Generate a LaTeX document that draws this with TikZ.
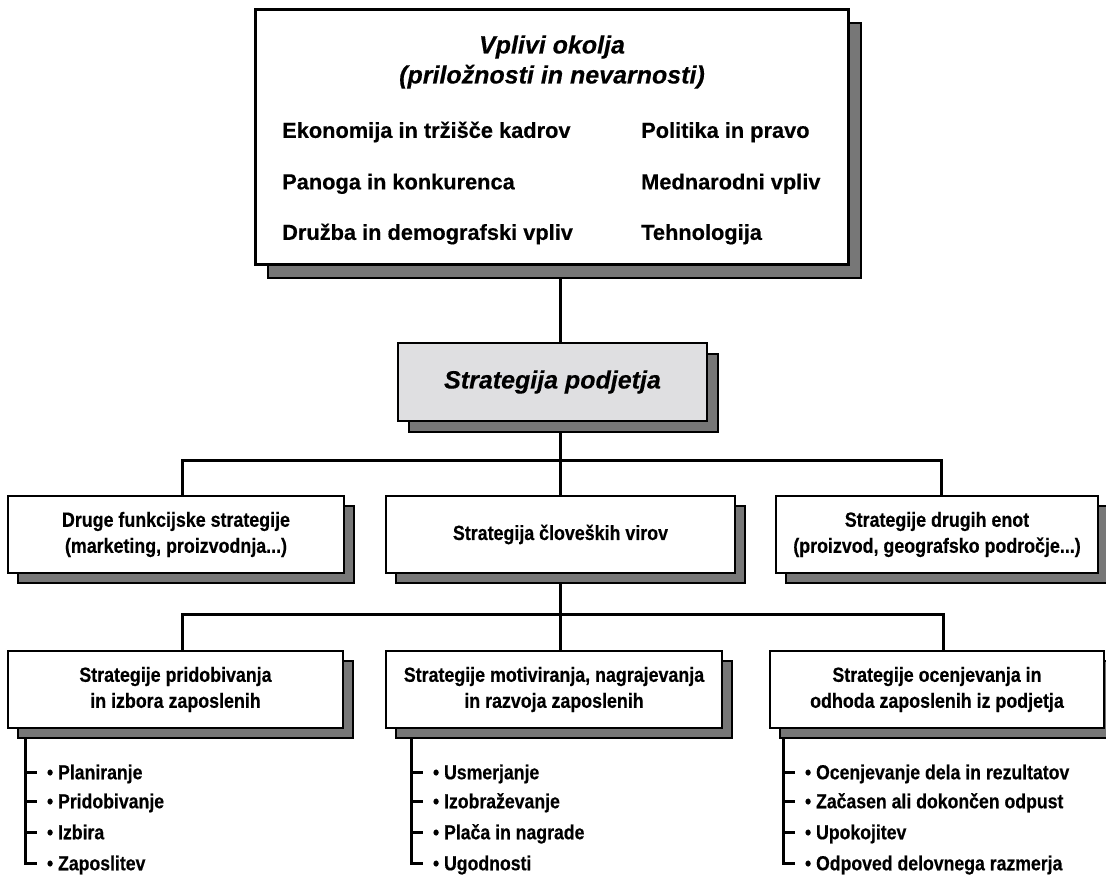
\documentclass[tikz,border=0pt]{standalone}
\usepackage{fontspec}
\setmainfont{Liberation Sans}[FakeBold=0.4]
\newfontfamily\narrowsans{Liberation Sans}[FakeStretch=0.87,FakeBold=0.4]
\usetikzlibrary{shadows,backgrounds}
\definecolor{shadowgray}{HTML}{777777}
\definecolor{boxgray}{HTML}{DFDFE1}
\tikzset{
  conn/.style={line width=3pt},
  shadowed/.style={drop shadow={shadow xshift=#1, shadow yshift=-#1, fill=shadowgray, draw=black, line width=1.2pt, opacity=1}},
  basebox/.style={draw, fill=white, anchor=north west, inner sep=0pt, outer sep=0pt, align=center},
  rowbox/.style={basebox, line width=2pt, shadowed=10pt,
    font=\narrowsans\bfseries\fontsize{20.5}{26}\selectfont},
  envbox/.style={basebox, line width=3pt, shadowed=13pt},
  corpbox/.style={basebox, line width=2pt, fill=boxgray, shadowed=11pt,
    font=\bfseries\itshape\fontsize{25}{30}\selectfont},
  titletext/.style={align=center, inner sep=0pt, font=\bfseries\itshape\fontsize{25}{30}\selectfont},
  envitem/.style={anchor=west, inner sep=0pt, text height=15.7pt, text depth=0pt,
    font=\bfseries\fontsize{21.8}{26}\selectfont},
  listitem/.style={anchor=west, inner xsep=10pt, inner ysep=0pt, outer sep=0pt,
    text height=14.5pt, text depth=0pt, font=\narrowsans\bfseries\fontsize{20.3}{22}\selectfont}
}
\begin{document}
\begin{tikzpicture}[x=1pt,y=-1pt]
\useasboundingbox (0,0) rectangle (1106,877);

% top box
\node[envbox, minimum width=593pt, minimum height=255pt] (env) at (255,10) {};
\node[titletext] (ttl) at (552,62) {Vplivi okolja\\(priložnosti in nevarnosti)};
\node[envitem] (e1) at (282,130) {Ekonomija in tržišče kadrov};
\node[envitem] (e2) at (282,181.5) {Panoga in konkurenca};
\node[envitem] (e3) at (282,232) {Družba in demografski vpliv};
\node[envitem] (e4) at (641,130) {Politika in pravo};
\node[envitem] (e5) at (641,181.5) {Mednarodni vpliv};
\node[envitem] (e6) at (641,232) {Tehnologija};

% company strategy
\node[corpbox, minimum width=309pt, minimum height=78pt] (corp) at (398,343) {Strategija podjetja};

% row 2
\node[rowbox, minimum width=336pt, minimum height=77pt] (oth) at (8,496) {Druge funkcijske strategije\\(marketing, proizvodnja...)};
\node[rowbox, minimum width=349pt, minimum height=77pt] (hr) at (386,496) {Strategija človeških virov};
\node[rowbox, minimum width=322pt, minimum height=77pt] (unit) at (776,496) {Strategije drugih enot\\(proizvod, geografsko področje...)};

% row 3
\node[rowbox, minimum width=335pt, minimum height=77pt] (acq) at (8,651) {Strategije pridobivanja\\in izbora zaposlenih};
\node[rowbox, minimum width=336pt, minimum height=77pt] (mot) at (386,651) {Strategije motiviranja, nagrajevanja\\in razvoja zaposlenih};
\node[rowbox, minimum width=334pt, minimum height=77pt] (eva) at (770,651) {Strategije ocenjevanja in\\odhoda zaposlenih iz podjetja};

% lists
\node[listitem] (a1) at (37,772) {• Planiranje};
\node[listitem] (a2) at (37,801) {• Pridobivanje};
\node[listitem] (a3) at (37,832) {• Izbira};
\node[listitem] (a4) at (37,863) {• Zaposlitev};

\node[listitem] (b1) at (423,772) {• Usmerjanje};
\node[listitem] (b2) at (423,801) {• Izobraževanje};
\node[listitem] (b3) at (423,832) {• Plača in nagrade};
\node[listitem] (b4) at (423,863) {• Ugodnosti};

\node[listitem] (c1) at (795,772) {• Ocenjevanje dela in rezultatov};
\node[listitem] (c2) at (795,801) {• Začasen ali dokončen odpust};
\node[listitem] (c3) at (795,832) {• Upokojitev};
\node[listitem] (c4) at (795,863) {• Odpoved delovnega razmerja};

% helper coordinates
\coordinate (hx) at (560,0);
\coordinate (k1) at (182,460);
\coordinate (k3) at (941,460);
\coordinate (m1) at (182,614);
\coordinate (m3) at (943,614);
\coordinate (va) at (25,0);
\coordinate (vb) at (411,0);
\coordinate (vc) at (783,0);

\begin{scope}[on background layer]
\draw[conn] (env.south -| hx) -- (corp.north -| hx);
\draw[conn] (corp.south -| hx) -- (hr.north -| hx);
\draw[conn] (oth.north -| k1) -- (k1) -- (k3) -- (unit.north -| k3);
\draw[conn] (hr.south -| hx) -- (mot.north -| hx);
\draw[conn] (acq.north -| m1) -- (m1) -- (m3) -- (eva.north -| m3);

\draw[conn] (acq.south -| va) |- (a4.west);
\draw[conn] (a1.west -| va) -- (a1.west);
\draw[conn] (a2.west -| va) -- (a2.west);
\draw[conn] (a3.west -| va) -- (a3.west);

\draw[conn] (mot.south -| vb) |- (b4.west);
\draw[conn] (b1.west -| vb) -- (b1.west);
\draw[conn] (b2.west -| vb) -- (b2.west);
\draw[conn] (b3.west -| vb) -- (b3.west);

\draw[conn] (eva.south -| vc) |- (c4.west);
\draw[conn] (c1.west -| vc) -- (c1.west);
\draw[conn] (c2.west -| vc) -- (c2.west);
\draw[conn] (c3.west -| vc) -- (c3.west);
\end{scope}
\end{tikzpicture}
\end{document}
